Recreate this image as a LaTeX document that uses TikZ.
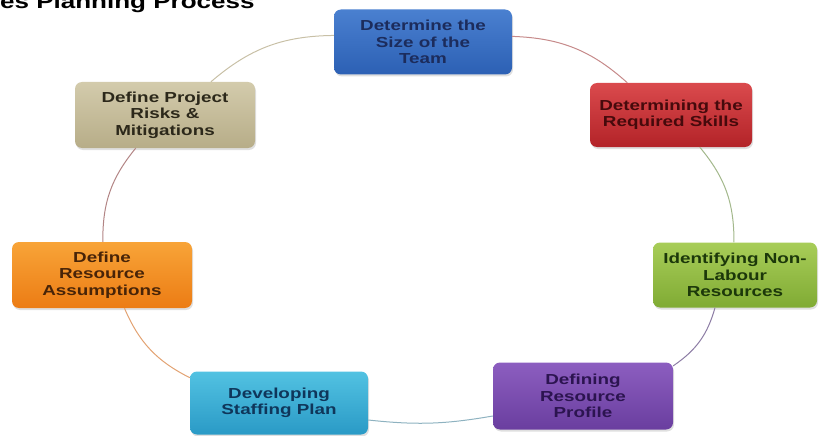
\documentclass[tikz,border=0pt]{standalone}
\usepackage{fontspec}
\setmainfont{Liberation Sans}
\newfontfamily\boxfont{Liberation Sans}[FakeStretch=1.3]
\usepackage{tikz}
\usetikzlibrary{shadows}

\definecolor{bluetop}{HTML}{4A80D0}
\definecolor{bluebot}{HTML}{2C60B4}
\definecolor{bluetxt}{HTML}{1C2C5C}
\definecolor{redtop}{HTML}{DA4A4D}
\definecolor{redbot}{HTML}{B32328}
\definecolor{redtxt}{HTML}{460A0C}
\definecolor{greentop}{HTML}{A8CD58}
\definecolor{greenbot}{HTML}{80AB34}
\definecolor{greentxt}{HTML}{1C380A}
\definecolor{purpletop}{HTML}{8C5EC0}
\definecolor{purplebot}{HTML}{6A3E9F}
\definecolor{purpletxt}{HTML}{2C1450}
\definecolor{tealtop}{HTML}{52C2E2}
\definecolor{tealbot}{HTML}{2A9AC6}
\definecolor{tealtxt}{HTML}{0F365A}
\definecolor{orangetop}{HTML}{F8A438}
\definecolor{orangebot}{HTML}{EC7C14}
\definecolor{orangetxt}{HTML}{482408}
\definecolor{tantop}{HTML}{D3CBAC}
\definecolor{tanbot}{HTML}{B7AD88}
\definecolor{tantxt}{HTML}{2C281A}
\definecolor{lnred}{HTML}{C68A8A}
\definecolor{lngreen}{HTML}{A3B88C}
\definecolor{lnpurple}{HTML}{8C7CA4}
\definecolor{lnteal}{HTML}{8EB2C0}
\definecolor{lnorange}{HTML}{E2A272}
\definecolor{lnmauve}{HTML}{B28484}
\definecolor{lntan}{HTML}{C8C0A6}

\begin{document}
\begin{tikzpicture}[
    x=1pt, y=-1pt,
    box/.style={rectangle, rounded corners=7pt, minimum width=178pt, minimum height=65pt,
        inner sep=1pt, align=center, font=\boxfont\bfseries\fontsize{14.5}{16.5}\selectfont,
        drop shadow={opacity=0.25, shadow xshift=1pt, shadow yshift=-2pt}},
    bluebox/.style={box, top color=bluetop, bottom color=bluebot, text=bluetxt},
    redbox/.style={box, top color=redtop, bottom color=redbot, text=redtxt},
    greenbox/.style={box, top color=greentop, bottom color=greenbot, text=greentxt},
    purplebox/.style={box, top color=purpletop, bottom color=purplebot, text=purpletxt},
    tealbox/.style={box, top color=tealtop, bottom color=tealbot, text=tealtxt},
    orangebox/.style={box, top color=orangetop, bottom color=orangebot, text=orangetxt},
    tanbox/.style={box, top color=tantop, bottom color=tanbot, text=tantxt},
    link/.style={line width=1pt, bend left=20}
]
\useasboundingbox (0,0) rectangle (820,436);
\clip (0,0) rectangle (820,436);

% Title (cut at the top edge)
\node[anchor=base west, inner sep=0pt, font=\boxfont\bfseries\fontsize{20}{22}\selectfont] (title) at (0,9) {es Planning Process};

% Cycle steps
\node[bluebox] (size) at (423,42) {Determine the\\Size of the\\Team};
\node[redbox, minimum width=162pt, minimum height=64pt] (skills) at (671,115) {Determining the\\Required Skills};
\node[greenbox, minimum width=164pt] (nonlab) at (735,275) {Identifying Non-\\Labour\\Resources};
\node[purplebox, minimum width=180pt, minimum height=67pt] (profile) at (583,396) {Defining\\Resource\\Profile};
\node[tealbox, minimum height=63pt] (staffing) at (279,403) {Developing\\Staffing Plan};
\node[orangebox, minimum width=180pt, minimum height=66pt] (assume) at (102,275) {Define\\Resource\\Assumptions};
\node[tanbox, minimum width=180pt, minimum height=66pt] (risks) at (165,115) {Define Project\\Risks \&\\Mitigations};

% Connectors
\draw[link, draw=lnred] (size) to (skills);
\draw[link, draw=lngreen] (skills) to (nonlab);
\draw[link, draw=lnpurple] (nonlab) to (profile);
\draw[link, draw=lnteal, bend left=8] ([yshift=-20pt]profile.west) to ([yshift=-17pt]staffing.east);
\draw[link, draw=lnorange] (staffing) to (assume);
\draw[link, draw=lnmauve] (assume) to (risks);
\draw[link, draw=lntan] (risks) to (size);

\end{tikzpicture}
\end{document}
